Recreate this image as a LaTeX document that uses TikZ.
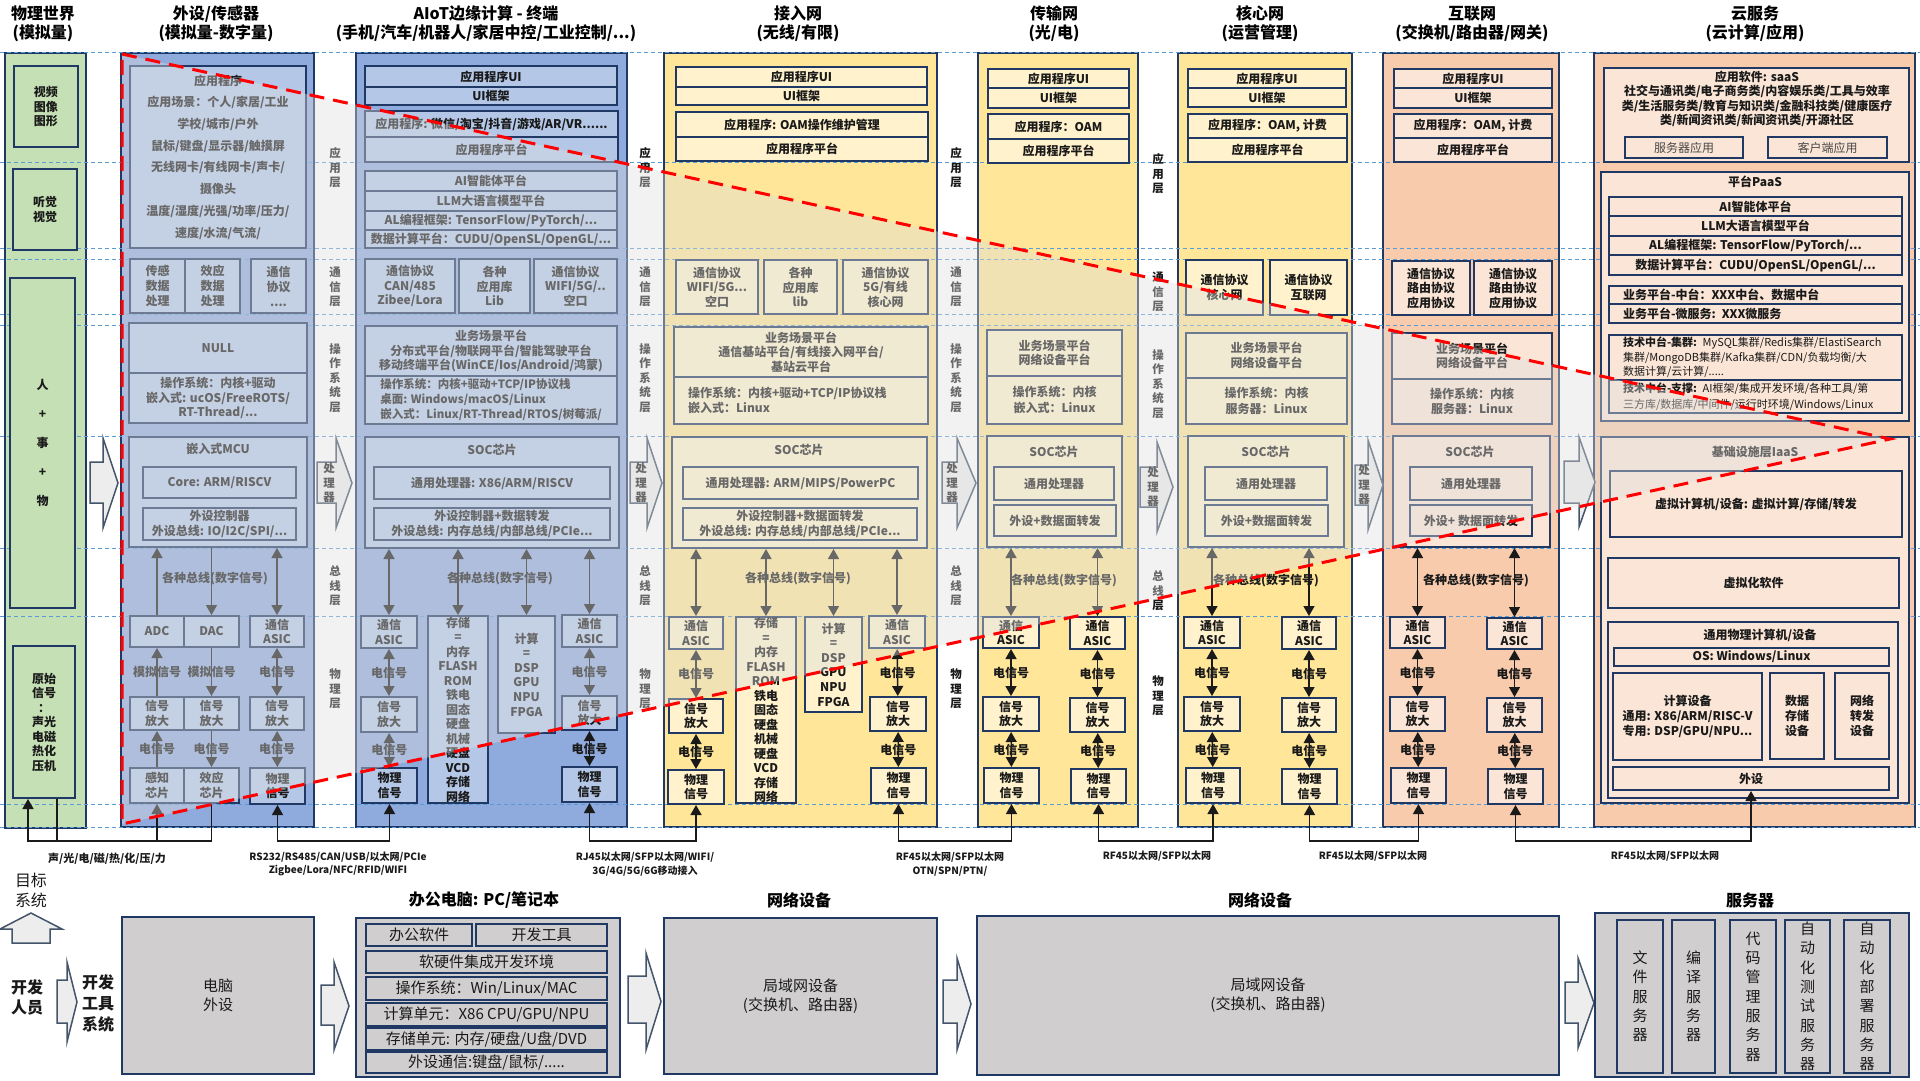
\documentclass[tikz,border=0pt]{standalone}
\usepackage{fontspec}
\setmainfont{Noto Sans CJK SC}
\usetikzlibrary{arrows.meta}

\definecolor{navy}{HTML}{203864}
\definecolor{ink}{HTML}{1A1A1A}
\definecolor{bluecol}{HTML}{8FAADC}
\definecolor{bluebox}{HTML}{B4C7E7}
\definecolor{yelcol}{HTML}{FFE699}
\definecolor{yelbox}{HTML}{FFF2CC}
\definecolor{pchcol}{HTML}{F8CBAD}
\definecolor{pchbox}{HTML}{FBE5D6}
\definecolor{grncol}{HTML}{C5E0B4}
\definecolor{grybox}{HTML}{D0CECE}
\definecolor{sky}{HTML}{5B9BD5}
\definecolor{veil}{HTML}{DEDEDE}
\definecolor{afill}{HTML}{EDEDED}
\definecolor{slate}{HTML}{44546A}

\newcommand\fsz[2]{\fontsize{#1}{#2}\selectfont}
% box from (x0,y0) to (x1,y1), pixel units
\newcommand\bx[7][]{\node[bx,minimum width={#5-#3},minimum height={#6-#4},#1] (#2) at ({(#3+#5)/2},{(#4+#6)/2}) {#7};}
% block arrow: x0, head x, tip x, head top, body top, body bottom, head bottom
\newcommand\procarrow[7]{\draw[parr] (#1,#5) -- (#2,#5) -- (#2,#4) -- (#3,{(#4+#7)/2}) -- (#2,#7) -- (#2,#6) -- (#1,#6) -- cycle;}

\tikzset{
  bx/.style={draw=navy,line width=2pt,inner sep=0pt,align=center,text=ink,font=\bfseries\fsz{12}{14.5}},
  colbox/.style={line width=2.5pt},
  txt/.style={text=ink,font=\bfseries\fsz{12}{14.5},align=center},
  lay/.style={text=ink,font=\bfseries\fsz{11.5}{14.5},align=center,inner sep=0pt},
  bus/.style={text=ink,font=\bfseries\fsz{12}{14}},
  sig/.style={text=ink,font=\bfseries\fsz{12}{14},inner sep=0pt},
  lbl/.style={text=ink,font=\bfseries\fsz{10}{13.5},align=center},
  hdr/.style={text=black,font=\bfseries\fsz{16}{19},align=center},
  btx/.style={font=\mdseries\fsz{15}{19}},
  vtx/.style={font=\mdseries\fsz{15}{19.3}},
  dar/.style={<->,line width=1.4pt,draw=ink},
  uar/.style={->,line width=1.4pt,draw=ink},
  lvl/.style={draw=sky,line width=1pt,dash pattern=on 4pt off 3pt},
  parr/.style={draw=slate,line width=1.5pt,fill=afill},
  veilfill/.style={fill=veil,opacity=.4},
  redline/.style={draw=red,line width=3pt,dash pattern=on 15pt off 9pt},
}

\begin{document}
\begin{tikzpicture}[x=1pt,y=-1pt,>={Triangle[width=11pt,length=10pt]}]
\useasboundingbox (0,0) rectangle (1920,1080);

% columns
\bx[colbox,fill=grncol]{wcol}{5}{53}{86}{828}{}
\bx[colbox,fill=bluecol]{scol}{121}{53}{314}{827}{}
\bx[colbox,fill=bluecol]{acol}{356}{53}{627}{827}{}
\bx[colbox,fill=yelcol]{jcol}{664}{53}{937}{827}{}
\bx[colbox,fill=yelcol]{tcol}{978}{53}{1138}{827}{}
\bx[colbox,fill=yelcol]{hcol}{1178}{53}{1352}{827}{}
\bx[colbox,fill=pchcol]{icol}{1383}{53}{1559}{827}{}
\bx[colbox,fill=pchcol]{ccol}{1594}{53}{1915}{827}{}

% layer lines
\foreach \y in {52,162,248,259,314,325,436,548,616,804,827}
  \draw[lvl] (0,\y) -- (1920,\y);

% physical world
\bx[fill=grncol]{wvid}{14}{66}{78}{147}{视频\\图像\\图形}
\bx[fill=grncol]{waud}{13}{169}{77}{250}{听觉\\视觉}
\bx[fill=grncol,font=\bfseries\fsz{12}{29}]{wppl}{10}{278}{75}{608}{人\\+\\事\\+\\物}
\bx[fill=grncol]{wraw}{13}{646}{75}{798}{原始\\信号\\：\\声光\\电磁\\热化\\压机}

% sensors
\bx[fill=bluebox,font=\bfseries\fsz{12}{21.7}]{sapp}{130}{66}{306}{248}{应用程序\\应用场景：个人/家居/工业\\学校/城市/户外\\鼠标/键盘/显示器/触摸屏\\无线网卡/有线网卡/声卡/\\摄像头\\温度/湿度/光强/功率/压力/\\速度/水流/气流/}
\bx[fill=bluebox,font=\bfseries\fsz{12}{15}]{ssen}{130}{259}{185}{313}{传感\\数据\\处理}
\bx[fill=bluebox,font=\bfseries\fsz{12}{15}]{seff}{185}{259}{240}{313}{效应\\数据\\处理}
\bx[fill=bluebox,font=\bfseries\fsz{12}{15}]{scom}{251}{259}{306}{313}{通信\\协议\\....}
\bx[fill=bluebox]{snull}{129}{323}{307}{373}{NULL}
\bx[fill=bluebox]{sos}{129}{373}{307}{423}{操作系统：内核+驱动\\嵌入式: ucOS/FreeROTS/\\RT-Thread/...}
\bx[fill=bluebox]{smcu}{129}{437}{307}{547}{}
\node[txt] (smcut) at (218,449) {嵌入式MCU};
\bx[fill=bluebox]{score}{143}{467}{296}{498}{Core: ARM/RISCV}
\bx[fill=bluebox]{sctl}{143}{508}{296}{540}{外设控制器\\外设总线: IO/I2C/SPI/...}
\bx[fill=bluebox]{sadc}{130}{616}{184}{647}{ADC}
\bx[fill=bluebox]{sdac}{184}{616}{239}{647}{DAC}
\bx[fill=bluebox]{sasic}{250}{616}{304}{647}{通信\\ASIC}
\bx[fill=bluebox]{samp1}{130}{697}{184}{730}{信号\\放大}
\bx[fill=bluebox]{samp2}{184}{697}{239}{730}{信号\\放大}
\bx[fill=bluebox]{samp3}{250}{697}{304}{730}{信号\\放大}
\bx[fill=bluebox]{sgan}{130}{768}{184}{803}{感知\\芯片}
\bx[fill=bluebox]{sxiao}{184}{768}{239}{803}{效应\\芯片}
\bx[fill=bluebox]{sphys}{250}{768}{305}{804}{物理\\信号}
\draw[uar] (sadc) -- (smcu.south -| sadc);
\draw[uar] (smcu.south -| sdac) -- (sdac);
\draw[dar] (smcu.south -| sasic) -- (sasic);
\node[bus] (sbus) at (215,579) {各种总线(数字信号)};
\draw[uar] (samp1) -- node[sig] {模拟信号} (sadc);
\draw[uar] (sdac) -- node[sig] {模拟信号} (samp2);
\draw[dar] (sasic) -- node[sig] {电信号} (samp3);
\draw[uar] (sgan) -- node[sig] {电信号} (samp1);
\draw[uar] (samp2) -- node[sig] {电信号} (sxiao);
\draw[dar] (samp3) -- node[sig] {电信号} (sphys);

% AIoT
\bx[fill=bluebox]{aui}{365}{66}{617}{87}{应用程序UI}
\bx[fill=bluebox]{auif}{365}{87}{617}{105}{UI框架}
\bx[fill=bluebox]{aapp}{365}{111}{618}{137}{应用程序: 微信/淘宝/抖音/游戏/AR/VR......}
\bx[fill=bluebox]{aplat}{365}{137}{618}{162}{应用程序平台}
\bx[fill=bluebox]{aagent}{365}{171}{617}{191}{AI智能体平台}
\bx[fill=bluebox]{allm}{365}{191}{617}{211}{LLM大语言模型平台}
\bx[fill=bluebox]{aframe}{365}{211}{617}{230}{AL编程框架: TensorFlow/PyTorch/...}
\bx[fill=bluebox]{acalc}{365}{230}{617}{248}{数据计算平台：CUDU/OpenSL/OpenGL/...}
\bx[fill=bluebox,font=\bfseries\fsz{12}{14.5}]{acan}{365}{259}{455}{313}{通信协议\\CAN/485\\Zibee/Lora}
\bx[fill=bluebox]{alib}{459}{259}{530}{313}{各种\\应用库\\Lib}
\bx[fill=bluebox]{awifi}{534}{259}{617}{313}{通信协议\\WIFI/5G/..\\空口}
\bx[fill=bluebox]{abiz}{365}{326}{617}{376}{业务场景平台\\分布式平台/物联网平台/智能驾驶平台\\移动终端平台(WinCE/Ios/Android/鸿蒙)}
\bx[fill=bluebox,align=left,font=\bfseries\fsz{11.5}{15}]{aos}{365}{376}{617}{424}{操作系统：内核+驱动+TCP/IP协议栈\\桌面: Windows/macOS/Linux\\嵌入式：Linux/RT-Thread/RTOS/树莓派/}
\bx[fill=bluebox]{asoc}{365}{437}{619}{548}{}
\node[txt] (asoct) at (492,450) {SOC芯片};
\bx[fill=bluebox]{acpu}{374}{467}{610}{499}{通用处理器: X86/ARM/RISCV}
\bx[fill=bluebox]{actl}{374}{508}{610}{540}{外设控制器+数据转发\\外设总线: 内存总线/内部总线/PCIe...}
\bx[fill=bluebox]{aasic1}{361}{616}{417}{648}{通信\\ASIC}
\bx[fill=bluebox]{amem}{428}{616}{488}{803}{存储\\=\\内存\\FLASH\\ROM\\铁电\\固态\\硬盘\\机械\\硬盘\\VCD\\存储\\网络}
\bx[fill=bluebox,font=\bfseries\fsz{12}{14.6}]{acomp}{498}{616}{555}{733}{计算\\=\\DSP\\GPU\\NPU\\FPGA}
\bx[fill=bluebox]{aasic2}{562}{615}{617}{647}{通信\\ASIC}
\bx[fill=bluebox]{aamp1}{361}{697}{417}{732}{信号\\放大}
\bx[fill=bluebox]{aamp2}{562}{696}{617}{730}{信号\\放大}
\bx[fill=bluebox]{aphys1}{362}{768}{417}{803}{物理\\信号}
\bx[fill=bluebox]{aphys2}{562}{767}{617}{802}{物理\\信号}
\foreach \n in {aasic1,amem,acomp,aasic2}
  \draw[dar] (asoc.south -| \n) -- (\n);
\node[bus] (abus) at (500,579) {各种总线(数字信号)};
\draw[dar] (aasic1) -- node[sig] {电信号} (aamp1);
\draw[dar] (aamp1) -- node[sig] {电信号} (aphys1);
\draw[dar] (aasic2) -- node[sig] {电信号} (aamp2);
\draw[dar] (aamp2) -- node[sig] {电信号} (aphys2);

% access network
\bx[fill=yelbox]{jui}{676}{67}{927}{87}{应用程序UI}
\bx[fill=yelbox]{juif}{676}{87}{927}{105}{UI框架}
\bx[fill=yelbox]{japp}{676}{112}{928}{137}{应用程序: OAM操作维护管理}
\bx[fill=yelbox]{jplat}{676}{137}{928}{161}{应用程序平台}
\bx[fill=yelbox]{jwifi}{676}{260}{758}{314}{通信协议\\WIFI/5G...\\空口}
\bx[fill=yelbox]{jlib}{764}{260}{837}{314}{各种\\应用库\\lib}
\bx[fill=yelbox]{jcore}{843}{260}{928}{314}{通信协议\\5G/有线\\核心网}
\bx[fill=yelbox]{jbiz}{674}{327}{928}{377}{业务场景平台\\通信基站平台/有线接入网平台/\\基站云平台}
\bx[fill=yelbox,align=left,text width=226,font=\bfseries\fsz{12}{15}]{jos}{674}{377}{928}{424}{操作系统：内核+驱动+TCP/IP协议栈\\嵌入式：Linux}
\bx[fill=yelbox]{jsoc}{672}{437}{927}{548}{}
\node[txt] (jsoct) at (799,450) {SOC芯片};
\bx[fill=yelbox]{jcpu}{683}{467}{918}{499}{通用处理器: ARM/MIPS/PowerPC}
\bx[fill=yelbox]{jctl}{683}{508}{917}{540}{外设控制器+数据面转发\\外设总线: 内存总线/内部总线/PCIe...}
\bx[fill=yelbox]{jasic1}{669}{617}{723}{649}{通信\\ASIC}
\bx[fill=yelbox]{jmem}{736}{617}{796}{803}{存储\\=\\内存\\FLASH\\ROM\\铁电\\固态\\硬盘\\机械\\硬盘\\VCD\\存储\\网络}
\bx[fill=yelbox,font=\bfseries\fsz{12}{14.6}]{jcomp}{805}{617}{862}{712}{计算\\=\\DSP\\GPU\\NPU\\FPGA}
\bx[fill=yelbox]{jasic2}{869}{616}{925}{648}{通信\\ASIC}
\bx[fill=yelbox]{jamp1}{669}{699}{723}{733}{信号\\放大}
\bx[fill=yelbox]{jamp2}{870}{697}{926}{731}{信号\\放大}
\bx[fill=yelbox]{jphys1}{668}{770}{724}{804}{物理\\信号}
\bx[fill=yelbox]{jphys2}{871}{768}{926}{803}{物理\\信号}
\foreach \n in {jasic1,jmem,jcomp,jasic2}
  \draw[dar] (jsoc.south -| \n) -- (\n);
\node[bus] (jbus) at (798,579) {各种总线(数字信号)};
\draw[dar] (jasic1) -- node[sig] {电信号} (jamp1);
\draw[dar] (jamp1) -- node[sig] {电信号} (jphys1);
\draw[dar] (jasic2) -- node[sig] {电信号} (jamp2);
\draw[dar] (jamp2) -- node[sig] {电信号} (jphys2);

% transport network
\bx[fill=yelbox]{tui}{988}{69}{1129}{88}{应用程序UI}
\bx[fill=yelbox]{tuif}{988}{88}{1129}{108}{UI框架}
\bx[fill=yelbox]{tapp}{988}{114}{1129}{139}{应用程序：OAM}
\bx[fill=yelbox]{tplat}{988}{139}{1129}{163}{应用程序平台}
\bx[fill=yelbox]{tbiz}{987}{330}{1122}{376}{业务场景平台\\网络设备平台}
\bx[fill=yelbox,font=\bfseries\fsz{12}{15.5}]{tos}{987}{376}{1122}{424}{操作系统：内核\\嵌入式：Linux}
\bx[fill=yelbox]{tsoc}{987}{436}{1122}{547}{}
\node[txt] (tsoct) at (1054,452) {SOC芯片};
\bx[fill=yelbox]{tcpu}{994}{467}{1114}{500}{通用处理器}
\bx[fill=yelbox]{tfwd}{994}{505}{1116}{536}{外设+数据面转发}
\bx[fill=yelbox]{tasic1}{983}{617}{1039}{648}{通信\\ASIC}
\bx[fill=yelbox]{tasic2}{1070}{617}{1125}{649}{通信\\ASIC}
\bx[fill=yelbox]{tamp1}{983}{697}{1039}{731}{信号\\放大}
\bx[fill=yelbox]{tamp2}{1070}{698}{1125}{732}{信号\\放大}
\bx[fill=yelbox]{tphys1}{984}{768}{1039}{803}{物理\\信号}
\bx[fill=yelbox]{tphys2}{1071}{769}{1126}{803}{物理\\信号}
\foreach \n in {tasic1,tasic2}
  \draw[dar] (tsoc.south -| \n) -- (\n);
\node[bus] (tbus) at (1064,581) {各种总线(数字信号)};
\draw[dar] (tasic1) -- node[sig] {电信号} (tamp1);
\draw[dar] (tamp1) -- node[sig] {电信号} (tphys1);
\draw[dar] (tasic2) -- node[sig] {电信号} (tamp2);
\draw[dar] (tamp2) -- node[sig] {电信号} (tphys2);

% core network
\bx[fill=yelbox]{hui}{1188}{69}{1346}{88}{应用程序UI}
\bx[fill=yelbox]{huif}{1188}{88}{1346}{107}{UI框架}
\bx[fill=yelbox]{happ}{1188}{114}{1347}{138}{应用程序：OAM, 计费}
\bx[fill=yelbox]{hplat}{1188}{138}{1347}{162}{应用程序平台}
\bx[fill=yelbox]{hcore}{1186}{260}{1263}{315}{通信协议\\核心网}
\bx[fill=yelbox]{hnet}{1270}{260}{1347}{315}{通信协议\\互联网}
\bx[fill=yelbox]{hbiz}{1186}{333}{1347}{378}{业务场景平台\\网络设备平台}
\bx[fill=yelbox,font=\bfseries\fsz{12}{15.5}]{hos}{1186}{378}{1347}{424}{操作系统：内核\\服务器：Linux}
\bx[fill=yelbox]{hsoc}{1188}{436}{1344}{547}{}
\node[txt] (hsoct) at (1266,452) {SOC芯片};
\bx[fill=yelbox]{hcpu}{1205}{467}{1327}{500}{通用处理器}
\bx[fill=yelbox]{hfwd}{1205}{505}{1328}{536}{外设+数据面转发}
\bx[fill=yelbox]{hasic1}{1184}{617}{1240}{648}{通信\\ASIC}
\bx[fill=yelbox]{hasic2}{1282}{617}{1336}{649}{通信\\ASIC}
\bx[fill=yelbox]{hamp1}{1184}{697}{1240}{731}{信号\\放大}
\bx[fill=yelbox]{hamp2}{1282}{698}{1336}{732}{信号\\放大}
\bx[fill=yelbox]{hphys1}{1186}{768}{1240}{803}{物理\\信号}
\bx[fill=yelbox]{hphys2}{1282}{769}{1337}{804}{物理\\信号}
\foreach \n in {hasic1,hasic2}
  \draw[dar] (hsoc.south -| \n) -- (\n);
\node[bus] (hbus) at (1266,581) {各种总线(数字信号)};
\draw[dar] (hasic1) -- node[sig] {电信号} (hamp1);
\draw[dar] (hamp1) -- node[sig] {电信号} (hphys1);
\draw[dar] (hasic2) -- node[sig] {电信号} (hamp2);
\draw[dar] (hamp2) -- node[sig] {电信号} (hphys2);

% internet
\bx[fill=pchbox]{iui}{1394}{69}{1552}{88}{应用程序UI}
\bx[fill=pchbox]{iuif}{1394}{88}{1552}{108}{UI框架}
\bx[fill=pchbox]{iapp}{1394}{114}{1552}{138}{应用程序：OAM, 计费}
\bx[fill=pchbox]{iplat}{1394}{138}{1552}{162}{应用程序平台}
\bx[fill=pchbox]{iprot1}{1392}{261}{1470}{315}{通信协议\\路由协议\\应用协议}
\bx[fill=pchbox]{iprot2}{1474}{261}{1552}{315}{通信协议\\路由协议\\应用协议}
\bx[fill=pchbox]{ibiz}{1392}{333}{1552}{379}{业务场景平台\\网络设备平台}
\bx[fill=pchbox,font=\bfseries\fsz{12}{15.5}]{ios}{1392}{379}{1552}{424}{操作系统：内核\\服务器：Linux}
\bx[fill=pchbox]{isoc}{1393}{436}{1550}{547}{}
\node[txt] (isoct) at (1470,452) {SOC芯片};
\bx[fill=pchbox]{icpu}{1410}{467}{1532}{500}{通用处理器}
\bx[fill=pchbox]{ifwd}{1410}{505}{1532}{536}{外设+ 数据面转发}
\bx[fill=pchbox]{iasic1}{1390}{617}{1445}{648}{通信\\ASIC}
\bx[fill=pchbox]{iasic2}{1487}{618}{1542}{649}{通信\\ASIC}
\bx[fill=pchbox]{iamp1}{1390}{697}{1445}{731}{信号\\放大}
\bx[fill=pchbox]{iamp2}{1487}{698}{1542}{732}{信号\\放大}
\bx[fill=pchbox]{iphys1}{1391}{768}{1446}{803}{物理\\信号}
\bx[fill=pchbox]{iphys2}{1488}{769}{1543}{804}{物理\\信号}
\foreach \n in {iasic1,iasic2}
  \draw[dar] (isoc.south -| \n) -- (\n);
\node[bus] (ibus) at (1476,581) {各种总线(数字信号)};
\draw[dar] (iasic1) -- node[sig] {电信号} (iamp1);
\draw[dar] (iamp1) -- node[sig] {电信号} (iphys1);
\draw[dar] (iasic2) -- node[sig] {电信号} (iamp2);
\draw[dar] (iamp2) -- node[sig] {电信号} (iphys2);

% cloud
\bx[fill=pchbox]{csaas}{1604}{68}{1909}{162}{}
\node[txt] (csaast) at (1757,77) {应用软件: saaS};
\node[txt] (csaasd) at (1757,106) {社交与通讯类/电子商务类/内容娱乐类/工具与效率\\类/生活服务类/教育与知识类/金融科技类/健康医疗\\类/新闻资讯类/新闻资讯类/开源社区};
\bx[fill=pchbox,font=\fsz{12}{14},text=ink!80]{csrv}{1625}{137}{1743}{158}{服务器应用}
\bx[fill=pchbox,font=\fsz{12}{14},text=ink!80]{cclient}{1768}{137}{1887}{158}{客户端应用}
\bx[fill=pchbox]{cpaas}{1601}{172}{1909}{421}{}
\node[txt] (cpaast) at (1755,182) {平台PaaS};
\bx[fill=pchbox]{cagent}{1609}{197}{1902}{216}{AI智能体平台}
\bx[fill=pchbox]{cllm}{1609}{216}{1902}{236}{LLM大语言模型平台}
\bx[fill=pchbox]{cframe}{1609}{236}{1902}{255}{AL编程框架: TensorFlow/PyTorch/...}
\bx[fill=pchbox]{ccalc}{1609}{255}{1902}{275}{数据计算平台：CUDU/OpenSL/OpenGL/...}
\bx[fill=pchbox,align=left,text width=265]{cmid}{1609}{286}{1902}{304}{业务平台-中台：XXX中台、数据中台}
\bx[fill=pchbox,align=left,text width=265]{cmicro}{1609}{304}{1902}{323}{业务平台-微服务: XXX微服务}
\bx[fill=pchbox,align=left,text width=265,font=\fsz{11}{14.5}]{cclus}{1609}{335}{1902}{380}{\textbf{技术中台-集群:} MySQL集群/Redis集群/ElastiSearch\\集群/MongoDB集群/Kafka集群/CDN/负载均衡/大\\数据计算/云计算/.....}
\bx[fill=pchbox,align=left,text width=265,font=\fsz{11}{15.5}]{csupp}{1609}{380}{1902}{413}{\textbf{技术中台-支撑:} AI框架/集成开发环境/各种工具/第\\三方库/数据库/中间件/运行时环境/Windows/Linux}
\bx[fill=pchbox]{ciaas}{1601}{437}{1909}{803}{}
\node[txt] (ciaast) at (1755,452) {基础设施层IaaS};
\bx[fill=pchbox]{cvm}{1610}{471}{1902}{537}{虚拟计算机/设备: 虚拟计算/存储/转发}
\bx[fill=pchbox]{cvirt}{1608}{558}{1899}{608}{虚拟化软件}
\bx[fill=pchbox]{cphy}{1608}{622}{1898}{798}{}
\node[txt] (cphyt) at (1760,635) {通用物理计算机/设备};
\bx[fill=pchbox]{cos}{1614}{648}{1889}{666}{OS: Windows/Linux}
\bx[fill=pchbox,font=\bfseries\fsz{12}{15}]{ccomp}{1613}{673}{1762}{760}{计算设备\\通用: X86/ARM/RISC-V\\专用: DSP/GPU/NPU...}
\bx[fill=pchbox,font=\bfseries\fsz{12}{15}]{cstore}{1770}{673}{1824}{759}{数据\\存储\\设备}
\bx[fill=pchbox,font=\bfseries\fsz{12}{15}]{cnet}{1835}{673}{1889}{759}{网络\\转发\\设备}
\bx[fill=pchbox]{cwai}{1613}{767}{1889}{790}{外设}

% gap labels
\foreach \x/\n in {335/1,645/2,956/3}{
  \node[lay] (lapp\n) at (\x,168) {应\\用\\层};
  \node[lay] (lcom\n) at (\x,287) {通\\信\\层};
  \node[lay] (los\n) at (\x,378) {操\\作\\系\\统\\层};
  \node[lay] (lbus\n) at (\x,586) {总\\线\\层};
  \node[lay] (lphy\n) at (\x,689) {物\\理\\层};
}
\node[lay] (lapp4) at (1158,174) {应\\用\\层};
\node[lay] (lcom4) at (1158,292) {通\\信\\层};
\node[lay] (los4) at (1158,384) {操\\作\\系\\统\\层};
\node[lay] (lbus4) at (1158,591) {总\\线\\层};
\node[lay] (lphy4) at (1158,696) {物\\理\\层};

% processor arrows
\procarrow{90}{103}{118}{438}{462}{503}{528}
\procarrow{317}{336}{352}{438}{462}{503}{528}
\procarrow{630}{647}{662}{438}{462}{503}{528}
\procarrow{942}{957}{976}{438}{462}{503}{528}
\procarrow{1140}{1157}{1173}{442}{467}{507}{532}
\procarrow{1355}{1368}{1383}{440}{465}{505}{530}
\procarrow{1564}{1579}{1595}{437}{461}{503}{527}
\node[lay] (lpr1) at (329,483) {处\\理\\器};
\node[lay] (lpr2) at (641,483) {处\\理\\器};
\node[lay] (lpr3) at (952,483) {处\\理\\器};
\node[lay] (lpr4) at (1153,487) {处\\理\\器};
\node[lay] (lpr5) at (1364,485) {处\\理\\器};

% physical links
\coordinate (bot) at (0,841);
\coordinate (wout) at ([xshift=13pt]wraw.south);
\coordinate (win) at ([xshift=-16pt]wraw.south);
\draw[uar] (wout) -- (wout |- bot) -| (sgan);
\draw[uar] (sxiao) -- (sxiao |- bot) -| (win);
\draw[dar] (sphys) -- (sphys |- bot) -| (aphys1);
\draw[dar] (aphys2) -- (aphys2 |- bot) -| (jphys1);
\draw[dar] (jphys2) -- (jphys2 |- bot) -| (tphys1);
\draw[dar] (tphys2) -- (tphys2 |- bot) -| (hphys1);
\draw[dar] (hphys2) -- (hphys2 |- bot) -| (iphys1);
\draw[dar] (iphys2) -- (iphys2 |- bot) -| (cwai);
\node[lbl,font=\bfseries\fsz{11}{13.5}] (lk0) at (107,859) {声/光/电/磁/热/化/压/力};
\node[lbl] (lk1) at (338,864) {RS232/RS485/CAN/USB/以太网/PCIe\\Zigbee/Lora/NFC/RFID/WIFI};
\node[lbl] (lk2) at (645,864) {RJ45以太网/SFP以太网/WIFI/\\3G/4G/5G/6G移动接入};
\node[lbl] (lk3) at (950,864) {RF45以太网/SFP以太网\\OTN/SPN/PTN/};
\node[lbl] (lk4) at (1157,856) {RF45以太网/SFP以太网};
\node[lbl] (lk5) at (1373,856) {RF45以太网/SFP以太网};
\node[lbl] (lk6) at (1665,856) {RF45以太网/SFP以太网};

% wedge
\coordinate (w1) at (122,54);
\coordinate (w2) at (1890,439);
\coordinate (w3) at (122,824);
\fill[veilfill] (w1) -- (w2) -- (w3) -- cycle;
\draw[redline] (w1) -- (w2) -- (w3) -- cycle;

% column titles
\node[hdr] (hw) at (43,24) {物理世界\\(模拟量)};
\node[hdr] (hs) at (216,24) {外设/传感器\\(模拟量-数字量)};
\node[hdr] (ha) at (486,24) {AIoT边缘计算 - 终端\\(手机/汽车/机器人/家居中控/工业控制/...)};
\node[hdr] (hj) at (798,24) {接入网\\(无线/有限)};
\node[hdr] (ht) at (1054,24) {传输网\\(光/电)};
\node[hdr] (hh) at (1260,24) {核心网\\(运营管理)};
\node[hdr] (hi) at (1472,24) {互联网\\(交换机/路由器/网关)};
\node[hdr] (hc) at (1755,24) {云服务\\(云计算/应用)};

% development system
\node[lay,font=\mdseries\fsz{16}{20}] (goal) at (31,890) {目标\\系统};
\draw[parr] (31,913) -- (62,929) -- (50,929) -- (50,943) -- (12,943) -- (12,929) -- (0,929) -- cycle;
\node[lay,font=\bfseries\fsz{16}{20}] (dev) at (27,997) {开发\\人员};
\procarrow{57}{67}{77}{962}{980}{1023}{1042}
\node[lay,font=\bfseries\fsz{16}{21}] (devsys) at (98,1003) {开发\\工具\\系统};
\bx[fill=grybox,btx]{bpc}{122}{917}{314}{1074}{电脑\\外设}
\procarrow{321}{334}{349}{962}{985}{1025}{1050}
\node[hdr] (bofft) at (484,900) {办公电脑: PC/笔记本};
\bx[fill=grybox]{boff}{356}{918}{620}{1077}{}
\bx[fill=grybox,btx]{bsoft}{366}{924}{472}{946}{办公软件}
\bx[fill=grybox,btx]{btool}{476}{924}{607}{946}{开发工具}
\bx[fill=grybox,btx]{bide}{366}{951}{607}{973}{软硬件集成开发环境}
\bx[fill=grybox,btx]{bos}{366}{977}{607}{1000}{操作系统：Win/Linux/MAC}
\bx[fill=grybox,btx]{bcpu}{366}{1003}{607}{1026}{计算单元：X86 CPU/GPU/NPU}
\bx[fill=grybox,btx]{bsto}{366}{1028}{607}{1050}{存储单元: 内存/硬盘/U盘/DVD}
\bx[fill=grybox,btx]{bperi}{366}{1052}{607}{1073}{外设通信:键盘/鼠标/.....}
\procarrow{628}{646}{661}{953}{976}{1023}{1050}
\node[hdr] (bnett1) at (799,900) {网络设备};
\bx[fill=grybox,btx]{blan1}{664}{918}{937}{1074}{局域网设备\\(交换机、路由器)}
\procarrow{943}{957}{971}{958}{980}{1023}{1050}
\node[hdr] (bnett2) at (1260,900) {网络设备};
\bx[fill=grybox,btx]{blan2}{977}{916}{1559}{1075}{局域网设备\\(交换机、路由器)}
\procarrow{1565}{1578}{1594}{958}{982}{1023}{1048}
\node[hdr] (bsrvt) at (1750,900) {服务器};
\bx[fill=grybox]{bsrv}{1595}{913}{1909}{1077}{}
\bx[fill=grybox,vtx]{bfile}{1617}{920}{1663}{1073}{文\\件\\服\\务\\器}
\bx[fill=grybox,vtx]{bcomp}{1672}{920}{1715}{1073}{编\\译\\服\\务\\器}
\bx[fill=grybox,vtx]{bcode}{1730}{920}{1776}{1073}{代\\码\\管\\理\\服\\务\\器}
\bx[fill=grybox,vtx]{btest}{1785}{920}{1830}{1073}{自\\动\\化\\测\\试\\服\\务\\器}
\bx[fill=grybox,vtx]{bdep}{1844}{920}{1890}{1073}{自\\动\\化\\部\\署\\服\\务\\器}
\end{tikzpicture}
\end{document}
